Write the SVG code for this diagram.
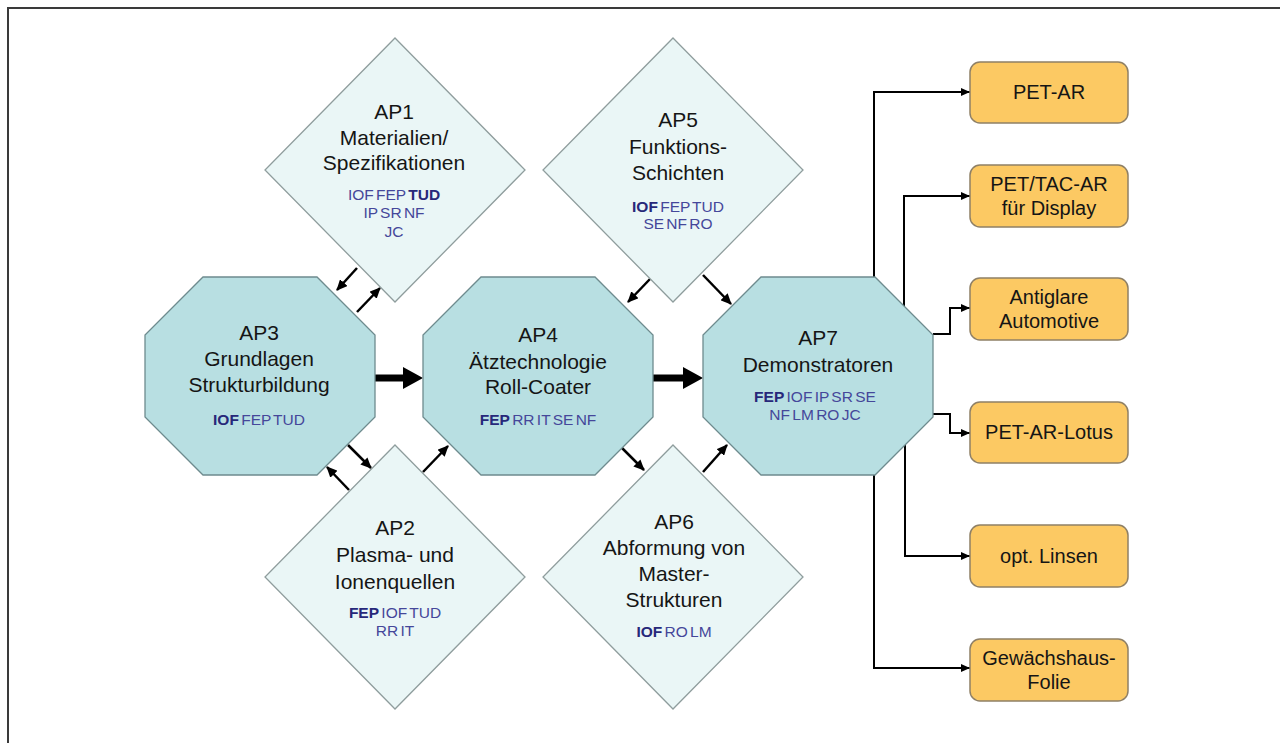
<svg xmlns="http://www.w3.org/2000/svg" width="1280" height="743" viewBox="0 0 1280 743">
<defs>
<style>
.dia{fill:#eaf6f6;stroke:#8f9d9d;stroke-width:1.3}
.oct{fill:#b8dfe2;stroke:#6e8b8e;stroke-width:1.3}
.box{fill:#fcc963;stroke:#8f8066;stroke-width:1.5}
.t{font-family:"Liberation Sans",Arial,sans-serif;font-size:21px;fill:#151515;text-anchor:middle}
.s{font-family:"Liberation Sans",Arial,sans-serif;font-size:15.5px;fill:#45479a;text-anchor:middle;word-spacing:-2px}
.s tspan.b{font-weight:bold;fill:#27287a}
.bt{font-family:"Liberation Sans",Arial,sans-serif;font-size:20px;fill:#151515;text-anchor:middle}
.a{fill:none;stroke:#000;stroke-width:2.5;marker-end:url(#ah)}
.c{fill:none;stroke:#000;stroke-width:2;marker-end:url(#ch)}
.k{fill:none;stroke:#000;stroke-width:7}
</style>
<marker id="ah" markerUnits="userSpaceOnUse" markerWidth="11" markerHeight="10" refX="10" refY="5" orient="auto"><path d="M0,0 L11,5 L0,10 z" fill="#000"/></marker>
<marker id="ch" markerUnits="userSpaceOnUse" markerWidth="9" markerHeight="8" refX="9" refY="4" orient="auto"><path d="M0,0 L9,4 L0,8 z" fill="#000"/></marker>
</defs>
<rect x="0" y="0" width="1280" height="743" fill="#fff"/>
<rect x="8" y="8" width="1290" height="760" fill="none" stroke="#3a3a3a" stroke-width="2"/>

<g id="connectors">
<path class="a" d="M357,268 L337,290"/>
<path class="a" d="M357,312 L380,288"/>
<path class="a" d="M348,445 L371,468"/>
<path class="a" d="M349,490 L327,467"/>
<path class="a" d="M423,472 L448,446"/>
<path class="a" d="M650,279 L628,302"/>
<path class="a" d="M703,275 L731,304"/>
<path class="a" d="M622,448 L644,470"/>
<path class="a" d="M703,472 L727,445"/>
<path class="k" d="M375,378 L405,378"/>
<path d="M403,367 L423,378 L403,389 z" fill="#000"/>
<path class="k" d="M653,378 L685,378"/>
<path d="M683,367 L703,378 L683,389 z" fill="#000"/>
<path class="c" d="M874,277 L874,92 L970,92"/>
<path class="c" d="M904,306 L904,196 L970,196"/>
<path class="c" d="M933,334 L950,334 L950,308 L970,308"/>
<path class="c" d="M933,414 L950,414 L950,433 L970,433"/>
<path class="c" d="M905,445 L905,556 L970,556"/>
<path class="c" d="M874,475 L874,668 L970,668"/>
</g>

<g id="AP1">
<polygon class="dia" points="395,38 525,170 395,302 265,170"/>
<text class="t" x="394" y="119">AP1</text>
<text class="t" x="394" y="145">Materialien/</text>
<text class="t" x="394" y="170">Spezifikationen</text>
<text class="s" x="394" y="200"><tspan>IOF FEP </tspan><tspan class="b">TUD</tspan></text>
<text class="s" x="394" y="218">IP SR NF</text>
<text class="s" x="394" y="237">JC</text>
</g>

<g id="AP5">
<polygon class="dia" points="673,38 803,170 673,302 543,170"/>
<text class="t" x="678" y="127">AP5</text>
<text class="t" x="678" y="154">Funktions-</text>
<text class="t" x="678" y="180">Schichten</text>
<text class="s" x="678" y="212"><tspan class="b">IOF</tspan><tspan> FEP TUD</tspan></text>
<text class="s" x="678" y="229">SE NF RO</text>
</g>

<g id="AP2">
<polygon class="dia" points="395,445 525,577 395,709 265,577"/>
<text class="t" x="395" y="535">AP2</text>
<text class="t" x="395" y="562">Plasma- und</text>
<text class="t" x="395" y="589">Ionenquellen</text>
<text class="s" x="395" y="618"><tspan class="b">FEP</tspan><tspan> IOF TUD</tspan></text>
<text class="s" x="395" y="636">RR IT</text>
</g>

<g id="AP6">
<polygon class="dia" points="673,445 803,577 673,709 543,577"/>
<text class="t" x="674" y="529">AP6</text>
<text class="t" x="674" y="555">Abformung von</text>
<text class="t" x="674" y="581">Master-</text>
<text class="t" x="674" y="607">Strukturen</text>
<text class="s" x="674" y="637"><tspan class="b">IOF</tspan><tspan> RO LM</tspan></text>
</g>

<g id="AP3">
<polygon class="oct" points="203,277 317,277 375,335 375,417 317,475 203,475 145,417 145,335"/>
<text class="t" x="259" y="340">AP3</text>
<text class="t" x="259" y="366">Grundlagen</text>
<text class="t" x="259" y="392">Strukturbildung</text>
<text class="s" x="259" y="425"><tspan class="b">IOF</tspan><tspan> FEP TUD</tspan></text>
</g>

<g id="AP4">
<polygon class="oct" points="481,277 595,277 653,335 653,417 595,475 481,475 423,417 423,335"/>
<text class="t" x="538" y="342">AP4</text>
<text class="t" x="538" y="369">Ätztechnologie</text>
<text class="t" x="538" y="394">Roll-Coater</text>
<text class="s" x="538" y="425"><tspan class="b">FEP</tspan><tspan> RR IT SE NF</tspan></text>
</g>

<g id="AP7">
<polygon class="oct" points="761,277 875,277 933,335 933,417 875,475 761,475 703,417 703,335"/>
<text class="t" x="818" y="345">AP7</text>
<text class="t" x="818" y="372">Demonstratoren</text>
<text class="s" x="815" y="402"><tspan class="b">FEP</tspan><tspan> IOF IP SR SE</tspan></text>
<text class="s" x="815" y="420">NF LM RO JC</text>
</g>

<g id="B1"><rect class="box" x="970" y="62" width="158" height="61" rx="10"/><text class="bt" x="1049" y="99">PET-AR</text></g>
<g id="B2"><rect class="box" x="970" y="165" width="158" height="62" rx="10"/><text class="bt" x="1049" y="191">PET/TAC-AR</text><text class="bt" x="1049" y="215">für Display</text></g>
<g id="B3"><rect class="box" x="970" y="278" width="158" height="62" rx="10"/><text class="bt" x="1049" y="304">Antiglare</text><text class="bt" x="1049" y="328">Automotive</text></g>
<g id="B4"><rect class="box" x="970" y="402" width="158" height="61" rx="10"/><text class="bt" x="1049" y="439">PET-AR-Lotus</text></g>
<g id="B5"><rect class="box" x="970" y="525" width="158" height="62" rx="10"/><text class="bt" x="1049" y="563">opt. Linsen</text></g>
<g id="B6"><rect class="box" x="970" y="639" width="158" height="62" rx="10"/><text class="bt" x="1049" y="665">Gewächshaus-</text><text class="bt" x="1049" y="689">Folie</text></g>
</svg>
